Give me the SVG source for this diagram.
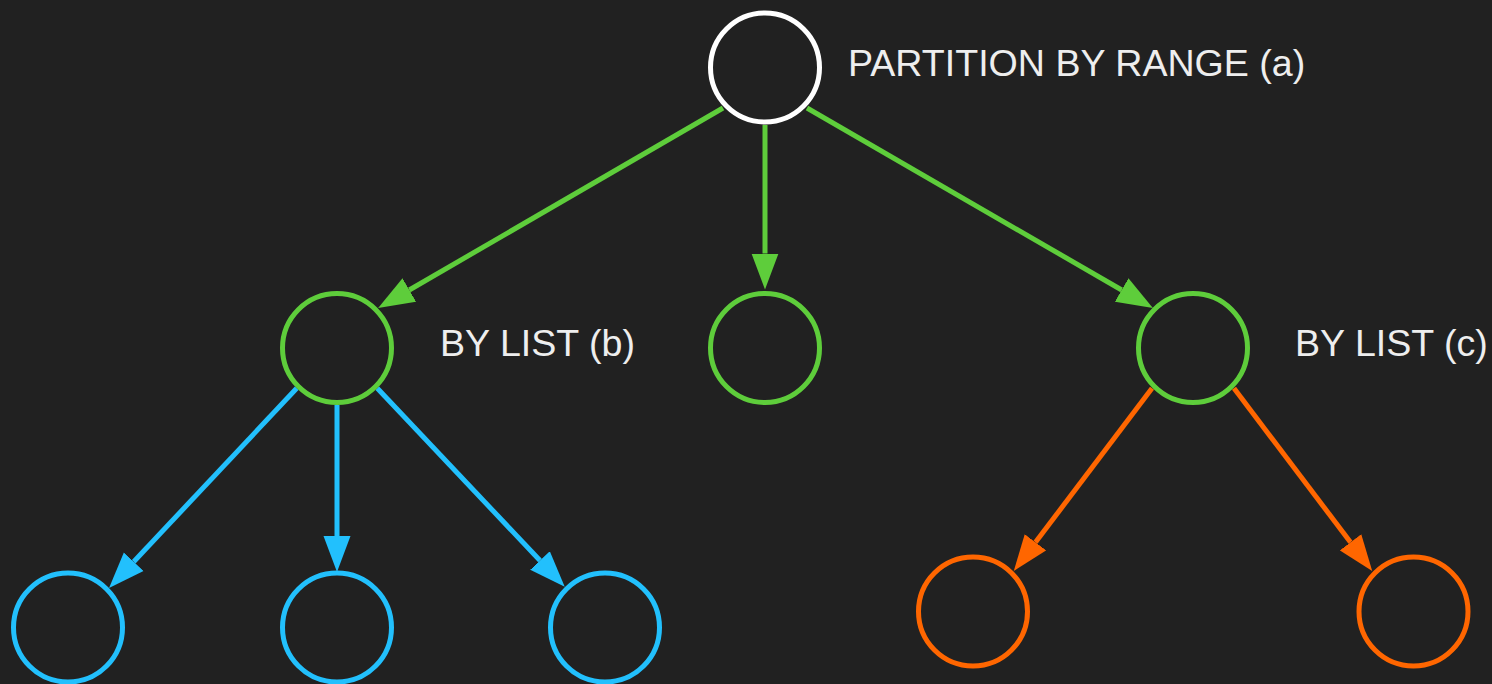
<svg xmlns="http://www.w3.org/2000/svg" width="1492" height="684" viewBox="0 0 1492 684">
  <style>
    .node { fill: none; stroke-width: 5; }
    .root { stroke: #ffffff; }
    .green { stroke: #5ecd3b; }
    .blue { stroke: #22c0fd; }
    .orange { stroke: #ff6600; }
    .edge { fill: none; stroke-width: 5; }
    .label { font-family: "Liberation Sans", Arial, sans-serif; font-size: 37.6px; fill: #eeeeee; }
  </style>
  <defs>
    <marker id="arrow-green" viewBox="0 -14 36 28" markerWidth="36" markerHeight="28" refX="0" refY="0" orient="auto" markerUnits="userSpaceOnUse">
      <path d="M0,-13.5 L36,0 L0,13.5 z" fill="#5ecd3b"/>
    </marker>
    <marker id="arrow-blue" viewBox="0 -14 36 28" markerWidth="36" markerHeight="28" refX="0" refY="0" orient="auto" markerUnits="userSpaceOnUse">
      <path d="M0,-13.5 L36,0 L0,13.5 z" fill="#22c0fd"/>
    </marker>
    <marker id="arrow-orange" viewBox="0 -14 36 28" markerWidth="36" markerHeight="28" refX="0" refY="0" orient="auto" markerUnits="userSpaceOnUse">
      <path d="M0,-13.5 L36,0 L0,13.5 z" fill="#ff6600"/>
    </marker>
  </defs>

  <rect width="1492" height="684" fill="#212121"/>

  <!-- connectors -->
  <g id="edges">
    <path class="edge green" d="M723,108 L409.3,290" marker-end="url(#arrow-green)"/>
    <path class="edge green" d="M765,125 L765,253.5" marker-end="url(#arrow-green)"/>
    <path class="edge green" d="M807,108 L1121.7,290" marker-end="url(#arrow-green)"/>
    <path class="edge blue" d="M296.7,388.3 L133.7,561.7" marker-end="url(#arrow-blue)"/>
    <path class="edge blue" d="M337,405 L337,536" marker-end="url(#arrow-blue)"/>
    <path class="edge blue" d="M377.3,388.3 L540,560.5" marker-end="url(#arrow-blue)"/>
    <path class="edge orange" d="M1152,388.3 L1035.5,542.3" marker-end="url(#arrow-orange)"/>
    <path class="edge orange" d="M1234,388.3 L1350.5,542.3" marker-end="url(#arrow-orange)"/>
  </g>

  <!-- nodes -->
  <g id="root">
    <circle class="node root" cx="765" cy="67.5" r="54.5"/>
    <text class="label" x="848" y="76">PARTITION BY RANGE (a)</text>
  </g>
  <g id="list-b">
    <circle class="node green" cx="337" cy="348" r="54.5"/>
    <text class="label" x="440" y="356">BY LIST (b)</text>
  </g>
  <g id="range-mid">
    <circle class="node green" cx="765" cy="348" r="54.5"/>
  </g>
  <g id="list-c">
    <circle class="node green" cx="1193" cy="348" r="54.5"/>
    <text class="label" x="1295" y="356">BY LIST (c)</text>
  </g>
  <g id="b1">
    <circle class="node blue" cx="68" cy="627.5" r="54.5"/>
  </g>
  <g id="b2">
    <circle class="node blue" cx="337" cy="627.5" r="54.5"/>
  </g>
  <g id="b3">
    <circle class="node blue" cx="605" cy="627.5" r="54.5"/>
  </g>
  <g id="c1">
    <circle class="node orange" cx="973" cy="611.5" r="54.5"/>
  </g>
  <g id="c2">
    <circle class="node orange" cx="1413.5" cy="611.5" r="54.5"/>
  </g>
</svg>
